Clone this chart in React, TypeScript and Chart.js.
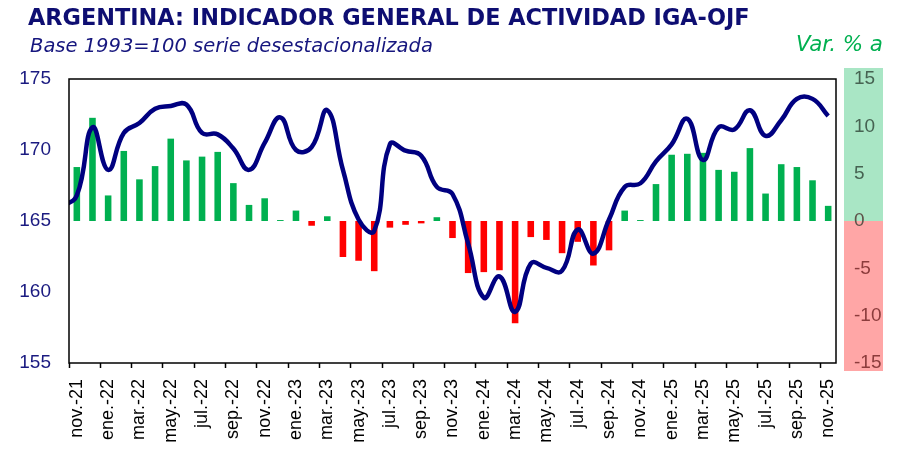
import React, { useEffect, useRef } from 'react';
import { Chart, registerables } from 'chart.js';

Chart.register(...registerables);

const TITLE = 'ARGENTINA: INDICADOR GENERAL DE ACTIVIDAD IGA-OJF';
const SUBTITLE = 'Base 1993=100 serie desestacionalizada';
const RIGHT_TITLE = 'Var. % a';

// First category (oct.-21) lies just outside the visible range; the line enters from it.
const categories = [
  'oct.-21', 'nov.-21', 'dic.-21',
  'ene.-22', 'feb.-22', 'mar.-22', 'abr.-22', 'may.-22', 'jun.-22', 'jul.-22', 'ago.-22', 'sep.-22', 'oct.-22', 'nov.-22', 'dic.-22',
  'ene.-23', 'feb.-23', 'mar.-23', 'abr.-23', 'may.-23', 'jun.-23', 'jul.-23', 'ago.-23', 'sep.-23', 'oct.-23', 'nov.-23', 'dic.-23',
  'ene.-24', 'feb.-24', 'mar.-24', 'abr.-24', 'may.-24', 'jun.-24', 'jul.-24', 'ago.-24', 'sep.-24', 'oct.-24', 'nov.-24', 'dic.-24',
  'ene.-25', 'feb.-25', 'mar.-25', 'abr.-25', 'may.-25', 'jun.-25', 'jul.-25', 'ago.-25', 'sep.-25', 'oct.-25', 'nov.-25',
];

const igaIndex = [
  166.0, 166.8, 171.6,
  168.6, 171.2, 171.9, 172.9, 173.1, 173.2, 171.2, 171.1, 170.1, 168.6, 170.5, 172.3,
  170.0, 170.2, 172.8, 168.6, 165.1, 164.3, 170.4, 169.95, 169.6, 167.4, 166.9, 163.4,
  159.6, 161.1, 158.6, 162.0, 161.7, 161.5, 164.4, 162.7, 165.1, 167.4, 167.65, 169.2,
  170.4, 172.2, 169.3, 171.6, 171.45, 172.8, 171.0, 172.1, 173.6, 173.6, 172.4,
];

const varAnual: (number | null)[] = [
  null, 5.7, 10.9,
  2.7, 7.4, 4.4, 5.8, 8.7, 6.4, 6.8, 7.3, 4.0, 1.7, 2.4, 0.1,
  1.1, -0.5, 0.5, -3.8, -4.2, -5.3, -0.7, -0.4, -0.25, 0.4, -1.8, -5.5,
  -5.4, -5.2, -10.8, -1.7, -2.0, -3.4, -2.2, -4.7, -3.1, 1.1, 0.1, 3.9,
  7.0, 7.1, 7.2, 5.4, 5.2, 7.7, 2.9, 6.0, 5.7, 4.3, 1.6,
];

const leftTicks = { min: 155, max: 175, step: 5 };
const rightTicks = { min: -15, max: 15, step: 5 };

const FONT = "'Liberation Sans', Arial, sans-serif";
const TITLE_FONT = "'DejaVu Sans', Verdana, sans-serif";

function drawFit(ctx: CanvasRenderingContext2D, text: string, x: number, y: number, width: number, style: string, color: string) {
  ctx.font = `${style} 20px ${TITLE_FONT}`;
  const w = ctx.measureText(text).width;
  const size = (20 * width) / w;
  ctx.font = `${style} ${size}px ${TITLE_FONT}`;
  ctx.fillStyle = color;
  ctx.textAlign = 'left';
  ctx.textBaseline = 'alphabetic';
  ctx.fillText(text, x, y);
}

const bandPlugin = {
  id: 'band',
  beforeDraw(chart: any) {
    const { ctx, chartArea } = chart;
    const y1 = chart.scales.y1;
    const zero = y1.getPixelForValue(0);
    const left = chartArea.right + 8;
    const w = 39;
    const top = chartArea.top - 11;
    const bottom = chartArea.bottom + 8;
    ctx.save();
    ctx.fillStyle = '#A9E6C5';
    ctx.fillRect(left, top, w, zero - top);
    ctx.fillStyle = '#FFA6A6';
    ctx.fillRect(left, zero, w, bottom - zero);
    ctx.restore();
  },
};

const framePlugin = {
  id: 'frame',
  afterDraw(chart: any) {
    const { ctx, chartArea } = chart;
    ctx.save();
    ctx.strokeStyle = '#000';
    ctx.lineWidth = 1.5;
    ctx.strokeRect(chartArea.left, chartArea.top, chartArea.right - chartArea.left, chartArea.bottom - chartArea.top);
    drawFit(ctx, TITLE, 28, 25, 722, 'bold', '#0E0E72');
    drawFit(ctx, SUBTITLE, 30, 52, 403, 'italic', '#16167E');
    drawFit(ctx, RIGHT_TITLE, 796, 51, 87, 'italic', '#00B050');
    ctx.restore();
  },
};

export default function App() {
  const ref = useRef<HTMLCanvasElement>(null);

  useEffect(() => {
    document.body.style.margin = '0';
    const chart = new Chart(ref.current as HTMLCanvasElement, {
      type: 'bar',
      data: {
        labels: categories,
        datasets: [
          {
            type: 'line',
            label: 'IGA-OJF',
            data: igaIndex,
            yAxisID: 'y',
            borderColor: '#000080',
            borderWidth: 4.5,
            pointRadius: 0,
            tension: 0.45,
            fill: false,
            order: 0,
            clip: { left: 0, top: 10, right: 10, bottom: 10 },
          } as any,
          {
            type: 'bar',
            label: 'Var. % a/a',
            data: varAnual,
            yAxisID: 'y1',
            backgroundColor: varAnual.map((v) => (v !== null && v < 0 ? '#FF0000' : '#00B050')),
            barPercentage: 0.42,
            categoryPercentage: 1.0,
            order: 1,
          } as any,
        ],
      },
      options: {
        animation: false,
        responsive: false,
        devicePixelRatio: 1,
        layout: { padding: { top: 79, left: 0, right: 0, bottom: 0 } },
        plugins: {
          legend: { display: false },
          tooltip: { enabled: false },
        },
        scales: {
          x: {
            type: 'category',
            min: categories[1],
            offset: true,
            border: { display: false },
            grid: {
              display: true,
              offset: true,
              drawOnChartArea: false,
              drawTicks: true,
              tickLength: 5,
              tickWidth: 1.5,
              tickColor: (ctx: any) => (ctx.type === 'tick' && ctx.index % 2 === 0 ? '#000' : 'rgba(0,0,0,0)'),
            },
            ticks: {
              autoSkip: false,
              maxRotation: 90,
              minRotation: 90,
              padding: 11,
              color: '#000',
              font: { family: FONT, size: 18 },
              callback: function (this: any, value: any, index: number) {
                return index % 2 === 0 ? this.getLabelForValue(value) : '';
              },
            },
            afterFit: (scale: any) => {
              scale.height = 91;
            },
          },
          y: {
            position: 'left',
            min: leftTicks.min,
            max: leftTicks.max,
            border: { display: false },
            grid: { display: false, drawTicks: false },
            ticks: {
              stepSize: leftTicks.step,
              padding: 18,
              color: '#1A1A80',
              font: { family: FONT, size: 19 },
            },
            afterFit: (scale: any) => {
              scale.width = 69;
            },
          },
          y1: {
            position: 'right',
            min: rightTicks.min,
            max: rightTicks.max,
            border: { display: false },
            grid: { display: false, drawTicks: false },
            ticks: {
              stepSize: rightTicks.step,
              padding: 18,
              color: (ctx: any) => (ctx.tick && ctx.tick.value < 0 ? '#8C3C3C' : ctx.tick && ctx.tick.value === 0 ? '#5E534A' : '#466352'),
              font: { family: FONT, size: 19 },
            },
            afterFit: (scale: any) => {
              scale.width = 77;
            },
          },
        },
      },
      plugins: [bandPlugin, framePlugin],
    });
    return () => chart.destroy();
  }, []);

  return (
    <canvas ref={ref} width={913} height={454} style={{ display: 'block', width: 913, height: 454 }} />
  );
}
